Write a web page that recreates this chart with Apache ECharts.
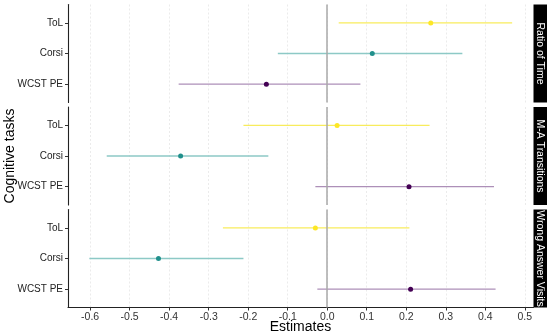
<!DOCTYPE html>
<html><head><meta charset="utf-8">
<script src="https://cdn.jsdelivr.net/npm/echarts@6/dist/echarts.min.js"></script>
<style>html,body{margin:0;padding:0;background:#fff}#c{width:550px;height:334px}</style>
</head><body><div id="c"></div><script>
const tasks = ['ToL', 'Corsi', 'WCST PE'];
const panels = ['Ratio of Time', 'M-A Transitions', 'Wrong Answer Visits'];
const estimates = [[0.262, 0.114, -0.154], [0.025, -0.371, 0.207], [-0.030, -0.427, 0.211]];
const lower = [[0.029, -0.125, -0.376], [-0.212, -0.558, -0.030], [-0.264, -0.602, -0.025]];
const upper = [[0.468, 0.342, 0.084], [0.259, -0.149, 0.422], [0.208, -0.212, 0.426]];
const xTicks = [-0.6, -0.5, -0.4, -0.3, -0.2, -0.1, 0.0, 0.1, 0.2, 0.3, 0.4, 0.5];

const pointColors = ['#FDE725', '#21908C', '#440154'];
const lineColors = ['#f8ec5c', '#8dc9c6', '#ad8fb8'];
const FONT = 'Liberation Sans, Arial, sans-serif';
const gridTops = [4.5, 107, 209.5];
const gridH = 98;
const gridLeft = 68, gridRight = 16.5;

const grids = [], xAxes = [], yAxes = [], series = [], graphics = [];
panels.forEach((p, i) => {
  const last = i === panels.length - 1;
  grids.push({left: gridLeft, right: gridRight, top: gridTops[i], height: gridH, containLabel: false});
  xAxes.push({
    gridIndex: i, type: 'value', min: -0.656, max: 0.522,
    axisLine: {show: last, onZero: false, lineStyle: {color: '#222', width: 1.1}},
    axisTick: {show: last, customValues: xTicks, length: 3, lineStyle: {color: '#333'}},
    axisLabel: {show: last, customValues: xTicks, formatter: v => (Math.abs(v) < 1e-9 ? 0 : v).toFixed(1), fontSize: 10.5, color: '#333', margin: 4, fontFamily: FONT},
    splitLine: {show: true, customValues: xTicks, lineStyle: {color: '#e6e6e6', type: [2, 2], width: 0.8}}
  });
  yAxes.push({
    gridIndex: i, type: 'value', min: 0.4, max: 3.6, inverse: true,
    axisLine: {show: true, onZero: false, lineStyle: {color: '#222', width: 1.1}},
    axisTick: {show: true, customValues: [1, 2, 3], length: 3, lineStyle: {color: '#333'}},
    axisLabel: {show: true, customValues: [1, 2, 3], formatter: v => tasks[Math.round(v) - 1] || '', fontSize: 10, color: '#222', margin: 5, fontFamily: FONT},
    splitLine: {show: false}
  });
  series.push({
    type: 'custom', xAxisIndex: i, yAxisIndex: i, z: 1, silent: true,
    data: tasks.map((t, j) => [lower[i][j], upper[i][j], j + 1, j]),
    encode: {x: [0, 1], y: 2},
    renderItem: (params, api) => {
      const a = api.coord([api.value(0), api.value(2)]);
      const b = api.coord([api.value(1), api.value(2)]);
      return {type: 'line', shape: {x1: a[0], y1: a[1], x2: b[0], y2: b[1]},
        style: {stroke: lineColors[api.value(3)], lineWidth: 1.3}};
    }
  });
  series.push({
    type: 'line', xAxisIndex: i, yAxisIndex: i, z: 2, data: [], silent: true,
    markLine: {silent: true, symbol: 'none', label: {show: false}, animation: false,
      lineStyle: {color: '#a8a8a8', width: 1.5, type: 'solid'}, data: [{xAxis: 0}]}
  });
  series.push({
    type: 'scatter', xAxisIndex: i, yAxisIndex: i, z: 3, symbolSize: 5, silent: true,
    data: tasks.map((t, j) => ({value: [estimates[i][j], j + 1], itemStyle: {color: pointColors[j], opacity: 1}}))
  });
  graphics.push({type: 'rect', left: 550 - gridRight, top: gridTops[i], shape: {width: 13.5, height: gridH}, style: {fill: '#000'}});
  graphics.push({type: 'text', x: 550 - gridRight + 6.75, y: gridTops[i] + gridH / 2, rotation: -Math.PI / 2,
    style: {text: p, fill: '#fff', font: '10.5px ' + FONT, align: 'center', verticalAlign: 'middle'}});
});
graphics.push({type: 'text', x: 10, y: 156, rotation: Math.PI / 2,
  style: {text: 'Cognitive tasks', fill: '#000', font: '14px ' + FONT, align: 'center', verticalAlign: 'middle'}});
graphics.push({type: 'text', x: 300.5, y: 327, 
  style: {text: 'Estimates', fill: '#000', font: '14px ' + FONT, align: 'center', verticalAlign: 'middle'}});

const chart = echarts.init(document.getElementById('c'), null, {renderer: 'canvas'});
chart.setOption({
  animation: false, backgroundColor: '#fff',
  grid: grids, xAxis: xAxes, yAxis: yAxes, series: series, graphic: graphics
});
</script></body></html>
